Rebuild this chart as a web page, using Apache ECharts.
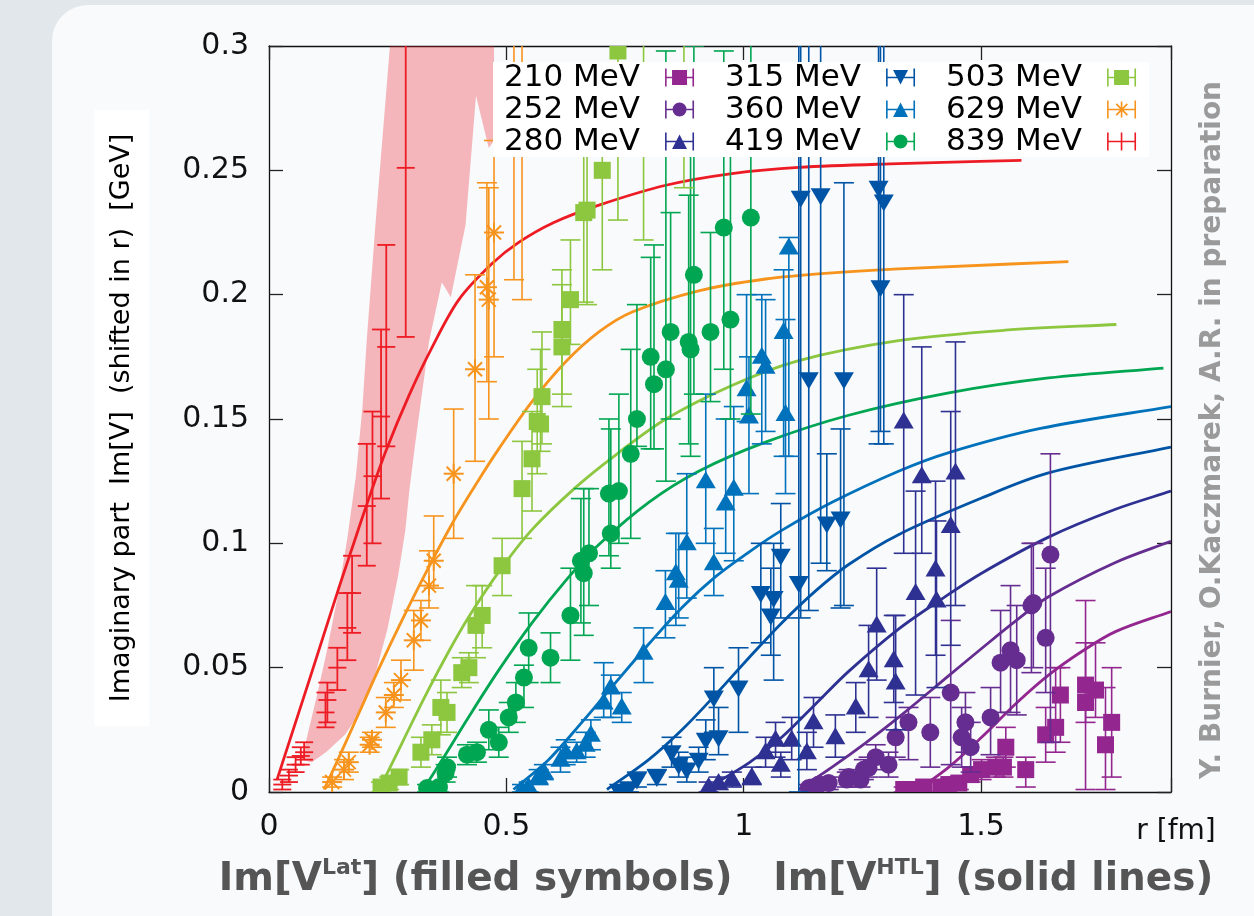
<!DOCTYPE html>
<html><head><meta charset="utf-8">
<script src="https://cdn.jsdelivr.net/npm/echarts/dist/echarts.min.js"></script>
<style>
html,body{margin:0;padding:0;width:1254px;height:916px;overflow:hidden;background:#e2e7eb}
#panel{position:absolute;left:52px;top:5px;width:1300px;height:1000px;background:#f8fafc;border-radius:36px}
#chart{position:absolute;left:0;top:0;width:1254px;height:916px}
</style></head><body>
<div id="panel"></div>
<div id="chart"></div>
<script>
// ---------------- data ----------------
const temps = ['210 MeV','252 MeV','280 MeV','315 MeV','360 MeV','419 MeV','503 MeV','629 MeV','839 MeV'];
const xTickValues = [0, 0.5, 1, 1.5];
const xName = 'r [fm]';
const yName = 'Imaginary part  Im[V]  (shifted in r)  [GeV]';
const credit = 'Y. Burnier, O.Kaczmarek, A.R. in preparation';

// lattice points: [r, value, errLow, errHigh]
const pts210 = [[1.337,0.001,0.0,0.002],[1.362,0.001,0.0,0.002],[1.379,0.002,0.0,0.004],[1.415,0.002,0.0,0.004],[1.432,0.003,0.001,0.005],[1.453,0.0036,0.001,0.006],[1.478,0.007,0.004,0.010],[1.501,0.009,0.005,0.013],[1.531,0.010,0.006,0.014],[1.547,0.010,0.006,0.014],[1.552,0.018,0.010,0.026],[1.594,0.009,0.002,0.014],[1.636,0.023,0.012,0.034],[1.657,0.026,0.016,0.050],[1.667,0.039,0.020,0.050],[1.720,0.036,0.001,0.077],[1.720,0.043,0.028,0.060],[1.741,0.041,0.030,0.060],[1.762,0.019,0.001,0.042],[1.775,0.028,0.006,0.050]];
const pts252 = [[1.137,0.0016,0.0,0.003],[1.158,0.003,0.001,0.005],[1.179,0.0036,0.001,0.006],[1.217,0.005,0.002,0.008],[1.221,0.006,0.003,0.009],[1.246,0.005,0.002,0.008],[1.253,0.009,0.005,0.013],[1.263,0.0097,0.006,0.014],[1.278,0.014,0.009,0.019],[1.305,0.011,0.006,0.016],[1.320,0.022,0.014,0.030],[1.347,0.028,0.013,0.034],[1.393,0.024,0.010,0.038],[1.436,0.040,0.011,0.069],[1.459,0.022,0.010,0.034],[1.467,0.028,0.016,0.040],[1.478,0.018,0.008,0.028],[1.520,0.030,0.015,0.042],[1.541,0.052,0.032,0.073],[1.562,0.057,0.032,0.083],[1.575,0.053,0.031,0.075],[1.606,0.075,0.048,0.100],[1.610,0.076,0.050,0.100],[1.636,0.062,0.040,0.090],[1.646,0.0955,0.020,0.136]];
const pts280 = [[0.926,0.002,0.0,0.004],[0.947,0.0036,0.001,0.006],[0.975,0.005,0.002,0.008],[1.017,0.006,0.003,0.010],[1.046,0.016,0.010,0.022],[1.067,0.021,0.014,0.028],[1.078,0.011,0.006,0.016],[1.101,0.021,0.013,0.030],[1.133,0.016,0.009,0.024],[1.147,0.028,0.018,0.038],[1.193,0.022,0.014,0.031],[1.236,0.034,0.024,0.044],[1.263,0.049,0.030,0.067],[1.280,0.067,0.045,0.090],[1.316,0.053,0.036,0.071],[1.320,0.044,0.025,0.071],[1.362,0.080,0.039,0.121],[1.375,0.127,0.096,0.179],[1.337,0.149,0.096,0.200],[1.404,0.0895,0.055,0.125],[1.406,0.077,0.042,0.109],[1.436,0.107,0.059,0.153],[1.446,0.1285,0.075,0.181]];
const pts315 = [[0.737,0.0005,0.0,0.002],[0.758,0.0015,0.0,0.003],[0.775,0.005,0.002,0.008],[0.817,0.006,0.003,0.009],[0.848,0.016,0.010,0.022],[0.863,0.011,0.006,0.016],[0.880,0.009,0.004,0.014],[0.905,0.013,0.008,0.018],[0.920,0.021,0.013,0.029],[0.947,0.022,0.015,0.034],[0.937,0.038,0.024,0.050],[0.989,0.042,0.024,0.058],[1.036,0.080,0.060,0.100],[1.057,0.071,0.055,0.090],[1.063,0.078,0.045,0.100],[1.078,0.095,0.070,0.116],[1.116,0.084,0.0,0.40],[1.120,0.239,0.070,0.40],[1.137,0.166,0.073,0.40],[1.162,0.240,0.092,0.40],[1.175,0.108,0.089,0.136],[1.204,0.110,0.074,0.146],[1.211,0.166,0.075,0.245],[1.284,0.243,0.140,0.40],[1.288,0.203,0.145,0.40],[1.295,0.2375,0.140,0.40]];
const pts360 = [[0.533,0.001,0.0,0.003],[0.547,0.002,0.0,0.004],[0.568,0.006,0.003,0.009],[0.579,0.008,0.005,0.011],[0.614,0.013,0.008,0.018],[0.625,0.016,0.011,0.021],[0.648,0.016,0.012,0.020],[0.667,0.019,0.014,0.024],[0.678,0.023,0.017,0.029],[0.705,0.036,0.030,0.052],[0.720,0.042,0.030,0.047],[0.743,0.034,0.028,0.040],[0.789,0.056,0.044,0.066],[0.835,0.076,0.062,0.089],[0.857,0.088,0.067,0.104],[0.863,0.085,0.070,0.104],[0.880,0.100,0.078,0.128],[0.920,0.125,0.100,0.160],[0.937,0.092,0.079,0.106],[0.962,0.116,0.096,0.150],[0.979,0.122,0.093,0.155],[1.006,0.162,0.149,0.200],[1.011,0.151,0.120,0.175],[1.038,0.175,0.140,0.200],[1.046,0.171,0.145,0.198],[1.084,0.185,0.135,0.210],[1.088,0.152,0.120,0.190],[1.095,0.219,0.135,0.223]];
const pts419 = [[0.333,0.0016,0.0,0.003],[0.358,0.002,0.0,0.004],[0.372,0.0077,0.004,0.011],[0.375,0.010,0.006,0.014],[0.417,0.015,0.011,0.019],[0.438,0.016,0.012,0.020],[0.463,0.025,0.017,0.033],[0.484,0.020,0.014,0.026],[0.505,0.030,0.024,0.036],[0.520,0.036,0.028,0.044],[0.537,0.046,0.034,0.051],[0.547,0.058,0.044,0.072],[0.593,0.054,0.044,0.064],[0.635,0.071,0.053,0.090],[0.657,0.093,0.068,0.118],[0.663,0.088,0.063,0.122],[0.674,0.096,0.075,0.122],[0.716,0.120,0.095,0.150],[0.720,0.104,0.090,0.146],[0.737,0.121,0.100,0.160],[0.762,0.136,0.102,0.178],[0.775,0.150,0.139,0.196],[0.804,0.175,0.138,0.215],[0.811,0.164,0.138,0.220],[0.836,0.170,0.125,0.298],[0.846,0.185,0.150,0.233],[0.884,0.181,0.140,0.240],[0.888,0.178,0.135,0.260],[0.895,0.208,0.160,0.300],[0.930,0.185,0.157,0.225],[0.958,0.227,0.170,0.298],[0.972,0.190,0.150,0.260],[1.015,0.231,0.152,0.330]];
const pts503 = [[0.236,0.002,0.0,0.004],[0.253,0.0036,0.001,0.006],[0.274,0.006,0.003,0.009],[0.320,0.016,0.010,0.022],[0.343,0.021,0.015,0.027],[0.362,0.034,0.023,0.045],[0.375,0.032,0.024,0.040],[0.406,0.048,0.042,0.054],[0.421,0.050,0.044,0.056],[0.436,0.067,0.054,0.083],[0.449,0.071,0.058,0.083],[0.491,0.091,0.079,0.102],[0.533,0.122,0.102,0.141],[0.554,0.134,0.113,0.153],[0.565,0.149,0.128,0.170],[0.572,0.148,0.137,0.178],[0.575,0.159,0.140,0.185],[0.617,0.179,0.155,0.204],[0.617,0.186,0.160,0.210],[0.635,0.198,0.180,0.222],[0.663,0.233,0.197,0.262],[0.670,0.234,0.196,0.259],[0.702,0.250,0.210,0.290],[0.735,0.298,0.230,0.370],[0.789,0.330,0.222,0.450],[0.874,0.340,0.243,0.450]];
const pts629 = [[0.133,0.004,0.002,0.006],[0.158,0.009,0.005,0.013],[0.168,0.012,0.008,0.016],[0.212,0.019,0.016,0.022],[0.217,0.021,0.018,0.024],[0.246,0.032,0.026,0.038],[0.263,0.039,0.034,0.044],[0.278,0.045,0.037,0.053],[0.305,0.061,0.049,0.073],[0.320,0.069,0.061,0.077],[0.337,0.083,0.074,0.097],[0.347,0.093,0.082,0.111],[0.389,0.128,0.102,0.154],[0.434,0.170,0.133,0.208],[0.459,0.203,0.165,0.245],[0.463,0.198,0.150,0.243],[0.474,0.225,0.175,0.262],[0.516,0.320,0.206,0.450],[0.533,0.330,0.198,0.450]];
const pts839 = [[0.028,0.003,0.001,0.005],[0.042,0.0066,0.004,0.009],[0.056,0.011,0.008,0.014],[0.067,0.0145,0.011,0.018],[0.074,0.016,0.013,0.020],[0.119,0.032,0.026,0.040],[0.123,0.037,0.028,0.044],[0.144,0.050,0.041,0.058],[0.165,0.066,0.053,0.080],[0.175,0.080,0.064,0.095],[0.206,0.115,0.091,0.140],[0.218,0.127,0.100,0.153],[0.236,0.151,0.118,0.186],[0.247,0.179,0.139,0.220],[0.288,0.251,0.183,0.340]];

// HTL curves: [r, value]
const htl210 = [[1.368,0.001],[1.432,0.010],[1.501,0.022],[1.573,0.0355],[1.642,0.047],[1.712,0.0565],[1.783,0.0645],[1.900,0.0726]];
const htl252 = [[1.116,0.001],[1.186,0.010],[1.257,0.0198],[1.326,0.030],[1.432,0.0468],[1.501,0.0577],[1.573,0.0688],[1.642,0.0785],[1.783,0.0923],[1.900,0.1008]];
const htl280 = [[0.918,0.001],[1.011,0.0117],[1.080,0.022],[1.152,0.0355],[1.221,0.0485],[1.326,0.0655],[1.420,0.078],[1.501,0.088],[1.642,0.1025],[1.783,0.1137],[1.900,0.121]];
const htl315 = [[0.712,0.001],[0.800,0.013],[0.870,0.025],[0.940,0.039],[1.011,0.0540],[1.080,0.068],[1.152,0.0810],[1.221,0.0915],[1.326,0.1035],[1.501,0.1182],[1.642,0.1283],[1.900,0.1387]];
const htl360 = [[0.515,0.001],[0.589,0.013],[0.659,0.028],[0.730,0.044],[0.800,0.0595],[0.870,0.0742],[0.940,0.0865],[1.011,0.0965],[1.080,0.1052],[1.186,0.1165],[1.326,0.1290],[1.432,0.1365],[1.625,0.1462],[1.900,0.155]];
const htl419 = [[0.325,0.001],[0.365,0.013],[0.420,0.030],[0.484,0.049],[0.554,0.068],[0.625,0.085],[0.695,0.0995],[0.800,0.1165],[0.905,0.1290],[1.046,0.1407],[1.221,0.1515],[1.432,0.1605],[1.642,0.1665],[1.884,0.1705]];
const htl503 = [[0.232,0.001],[0.281,0.020],[0.330,0.039],[0.380,0.057],[0.421,0.0705],[0.484,0.0885],[0.554,0.1055],[0.646,0.1225],[0.730,0.1355],[0.836,0.1500],[0.975,0.1635],[1.116,0.1735],[1.326,0.1815],[1.550,0.1857],[1.785,0.188]];
const htl629 = [[0.116,0.001],[0.150,0.015],[0.190,0.032],[0.230,0.049],[0.280,0.069],[0.330,0.088],[0.386,0.108],[0.440,0.125],[0.484,0.138],[0.554,0.157],[0.625,0.173],[0.695,0.185],[0.765,0.193],[0.905,0.2015],[1.046,0.2063],[1.186,0.2088],[1.326,0.2104],[1.684,0.2133]];
const htl839 = [[0.017,0.005],[0.050,0.0245],[0.084,0.0445],[0.115,0.063],[0.147,0.082],[0.175,0.098],[0.204,0.1145],[0.246,0.137],[0.295,0.1595],[0.344,0.179],[0.400,0.198],[0.470,0.2125],[0.526,0.2210],[0.600,0.2290],[0.695,0.2360],[0.836,0.2440],[0.975,0.2487],[1.116,0.2512],[1.326,0.2527],[1.585,0.254]];

// shaded band (839 MeV), polygon outline [r, value]
const band839 = [[0.068,0.013],[0.080,0.022],[0.100,0.038],[0.120,0.055],[0.145,0.079],[0.165,0.102],[0.183,0.127],[0.197,0.155],[0.206,0.182],[0.225,0.230],[0.259,0.310],
 [0.474,0.310],[0.474,0.262],[0.463,0.259],[0.436,0.280],[0.414,0.228],[0.383,0.199],[0.364,0.205],[0.337,0.181],[0.322,0.160],[0.308,0.140],[0.296,0.122],[0.287,0.105],[0.272,0.087],[0.250,0.066],[0.225,0.048],[0.195,0.033],[0.160,0.023],[0.120,0.016],[0.090,0.012]];

// ---------------- styling ----------------
const defs = [
  {name: temps[0], pts: pts210, htl: htl210, color: '#93278f', shape: 'square'},
  {name: temps[1], pts: pts252, htl: htl252, color: '#662d91', shape: 'circle'},
  {name: temps[2], pts: pts280, htl: htl280, color: '#2e3192', shape: 'up'},
  {name: temps[3], pts: pts315, htl: htl315, color: '#0054a6', shape: 'down'},
  {name: temps[4], pts: pts360, htl: htl360, color: '#0072bc', shape: 'up'},
  {name: temps[5], pts: pts419, htl: htl419, color: '#00a651', shape: 'circle'},
  {name: temps[6], pts: pts503, htl: htl503, color: '#8dc63f', shape: 'square'},
  {name: temps[7], pts: pts629, htl: htl629, color: '#f7941d', shape: 'star'},
  {name: temps[8], pts: pts839, htl: htl839, color: '#ed1c24', shape: 'cross'}
];
const FONT = 'DejaVu Sans';

function legendIcon(shape){
  const caps = 'M0,0h1.6v18h-1.6Z M27.4,0h1.6v18h-1.6Z ';
  const bar = (a,b) => 'M'+a+',8.2h'+(b-a).toFixed(2)+'v1.6h-'+(b-a).toFixed(2)+'Z ';
  switch(shape){
    case 'square': return 'path://'+caps+bar(1.6,7)+bar(22,27.4)+'M7,1.5h15v15h-15Z';
    case 'circle': return 'path://'+caps+bar(1.6,7.5)+bar(21.5,27.4)+'M7.5,9a7,7 0 1 1 14,0a7,7 0 1 1 -14,0Z';
    case 'up': return 'path://'+caps+bar(1.6,27.4)+'M7,16.5L14.5,2L22,16.5Z';
    case 'down': return 'path://'+caps+bar(1.6,27.4)+'M7,1.5L22,1.5L14.5,16Z';
    case 'star': return 'path://'+caps+bar(1.6,27.4)+'M13.7,1h1.6v16h-1.6Z M8.6,3.9L9.8,2.7L20.9,14.1L19.7,15.3Z M19.7,2.7L20.9,3.9L9.8,15.3L8.6,14.1Z';
    default: return 'path://'+caps+bar(1.6,27.4)+'M13.7,0h1.6v18h-1.6Z';
  }
}

function marker(shape, x, y, color){
  const st = {fill: color};
  const ln = (x1,y1,x2,y2) => ({type:'line', shape:{x1,y1,x2,y2}, style:{stroke:color, lineWidth:2}});
  switch(shape){
    case 'square': return [{type:'rect', shape:{x:x-8.5,y:y-8.5,width:17,height:17}, style:st}];
    case 'circle': return [{type:'circle', shape:{cx:x,cy:y,r:9}, style:st}];
    case 'up': return [{type:'polygon', shape:{points:[[x-10,y+7],[x,y-10],[x+10,y+7]]}, style:st}];
    case 'down': return [{type:'polygon', shape:{points:[[x-10,y-7],[x+10,y-7],[x,y+10]]}, style:st}];
    case 'star': return [ln(x-10,y,x+10,y), ln(x,y-10,x,y+10), ln(x-7,y-7,x+7,y+7), ln(x-7,y+7,x+7,y-7)];
    default: return [{type:'line', shape:{x1:x-9,y1:y,x2:x+9,y2:y}, style:{stroke:color, lineWidth:1.8}}];
  }
}

function pointRenderer(d){
  return function(params, api){
    const r = api.value(0), v = api.value(1), lo = api.value(2), hi = api.value(3);
    const p = api.coord([r, v]);
    const pl = api.coord([r, lo]);
    const ph = api.coord([r, hi]);
    const cap = d.shape === 'cross' ? 9 : 10;
    const lw = d.shape === 'cross' ? 1.8 : 1.6;
    const es = {stroke: d.color, lineWidth: lw};
    const children = [
      {type:'line', shape:{x1:p[0],y1:pl[1],x2:p[0],y2:ph[1]}, style:es},
      {type:'line', shape:{x1:p[0]-cap,y1:pl[1],x2:p[0]+cap,y2:pl[1]}, style:es},
      {type:'line', shape:{x1:p[0]-cap,y1:ph[1],x2:p[0]+cap,y2:ph[1]}, style:es}
    ].concat(marker(d.shape, p[0], p[1], d.color));
    return {type:'group', children};
  };
}

// smooth curve through pixel points (chord-length Hermite spline)
function splinePath(pts){
  const n = pts.length, t = [0];
  for (let i = 1; i < n; i++) t.push(t[i-1] + (Math.hypot(pts[i][0]-pts[i-1][0], pts[i][1]-pts[i-1][1]) || 1e-6));
  const m = pts.map((p, i) => {
    const a = Math.max(i-1, 0), b = Math.min(i+1, n-1), dt = t[b]-t[a];
    return [(pts[b][0]-pts[a][0])/dt, (pts[b][1]-pts[a][1])/dt];
  });
  let d = 'M' + pts[0][0] + ',' + pts[0][1];
  for (let i = 0; i < n-1; i++) {
    const h = (t[i+1]-t[i])/3;
    d += ' C' + (pts[i][0]+m[i][0]*h) + ',' + (pts[i][1]+m[i][1]*h) + ' ' +
         (pts[i+1][0]-m[i+1][0]*h) + ',' + (pts[i+1][1]-m[i+1][1]*h) + ' ' + pts[i+1][0] + ',' + pts[i+1][1];
  }
  return d;
}

function curveRenderer(d){
  return function(params, api){
    if (params.dataIndexInside !== 0) return null;
    const n = params.dataInsideLength;
    const pts = [];
    for (let i = 0; i < n; i++) pts.push(api.coord([api.value(0, i), api.value(1, i)]));
    return {type:'path', shape:{pathData: splinePath(pts)}, style:{stroke:d.color, lineWidth:2.8, fill:null}};
  };
}

const series = [];
series.push({
  type:'custom', name:'band 839', silent:true, clip:true, z:1,
  data:[[0,0]],
  renderItem: function(params, api){
    const pts = band839.map(q => api.coord(q));
    return {type:'polygon', shape:{points:pts}, style:{fill:'rgba(237,28,36,0.3)'}};
  }
});
defs.forEach(d => {
  series.push({
    type:'custom', name:'HTL '+d.name, data:d.htl, silent:true, clip:true, z:3,
    itemStyle:{color:d.color}, encode:{x:0, y:1},
    renderItem: curveRenderer(d)
  });
});
defs.forEach(d => {
  series.push({
    type:'custom', name:d.name, data:d.pts, clip:true, z:4, silent:true,
    itemStyle:{color:d.color},
    encode:{x:0, y:1},
    renderItem: pointRenderer(d)
  });
});

const legendLeft = [504, 725, 946];
const legends = [0,1,2].map(c => ({
  orient:'vertical', align:'right', left:legendLeft[c], top:62, padding:0,
  itemWidth:29, itemHeight:18, itemGap:1, z:20, selectedMode:false,
  textStyle:{fontFamily:FONT, fontSize:31, color:'#000', padding:[0,20,0,0]},
  data: defs.slice(c*3, c*3+3).map(d => ({name:d.name, icon:legendIcon(d.shape)}))
}));

const axisLineStyle = {color:'#111', width:1.3};
const tickStyle = {color:'#222', width:1.3};
const xFmt = v => (Math.abs(v*2 - Math.round(v*2)) < 1e-9 ? String(+v.toFixed(2)) : '');

const option = {
  animation:false,
  backgroundColor:'transparent',
  grid:{left:269, top:46, width:902, height:746, containLabel:false},
  xAxis:[
    {type:'value', min:0, max:1.9, interval:0.5, position:'bottom',
     axisLine:{onZero:false, lineStyle:axisLineStyle},
     axisTick:{inside:true, length:14, lineStyle:tickStyle},
     splitLine:{show:false},
     axisLabel:{margin:20, fontFamily:FONT, fontSize:30, color:'#111', formatter:xFmt}},
    {type:'value', min:0, max:1.9, interval:0.5, position:'top',
     axisLine:{onZero:false, lineStyle:axisLineStyle},
     axisTick:{inside:true, length:14, lineStyle:tickStyle},
     splitLine:{show:false}, axisLabel:{show:false}}
  ],
  yAxis:[
    {type:'value', min:0, max:0.3, interval:0.05, position:'left',
     axisLine:{onZero:false, lineStyle:axisLineStyle},
     axisTick:{inside:true, length:14, lineStyle:tickStyle},
     splitLine:{show:false},
     axisLabel:{margin:20, fontFamily:FONT, fontSize:30, color:'#111'}},
    {type:'value', min:0, max:0.3, interval:0.05, position:'right',
     axisLine:{onZero:false, lineStyle:axisLineStyle},
     axisTick:{inside:true, length:14, lineStyle:tickStyle},
     splitLine:{show:false}, axisLabel:{show:false}}
  ],
  legend: legends,
  series: series,
  graphic:{elements:[
    {type:'rect', z:10, shape:{x:493, y:62, width:656, height:95}, style:{fill:'#ffffff'}},
    {type:'text', z:10, x:122, y:418, rotation:Math.PI/2,
     style:{text:yName, align:'center', verticalAlign:'middle', fontFamily:FONT, fontSize:27, fill:'#000',
            backgroundColor:'#ffffff', padding:[14,24,14,24]}},
    {type:'text', z:10, x:1176, y:818,
     style:{text:xName, align:'center', verticalAlign:'top', fontFamily:FONT, fontSize:28, fill:'#111'}},
    {type:'text', z:10, x:1213, y:430, rotation:Math.PI/2,
     style:{text:credit, align:'center', verticalAlign:'middle', fontFamily:FONT, fontWeight:'bold', fontSize:28, fill:'#9a9a9a'}},
    {type:'text', z:10, x:716, y:880,
     style:{text:'{n|Im[V}{s|Lat}{n|] (filled symbols)   Im[V}{s|HTL}{n|] (solid lines)}',
            align:'center', verticalAlign:'middle',
            rich:{n:{fontFamily:FONT, fontWeight:'bold', fontSize:39, fill:'#555555', lineHeight:46},
                  s:{fontFamily:FONT, fontWeight:'bold', fontSize:22, fill:'#555555', lineHeight:22, verticalAlign:'top'}}}}
  ]}
};

const chart = echarts.init(document.getElementById('chart'), null, {renderer:'canvas'});
chart.setOption(option);
</script>
</body></html>
